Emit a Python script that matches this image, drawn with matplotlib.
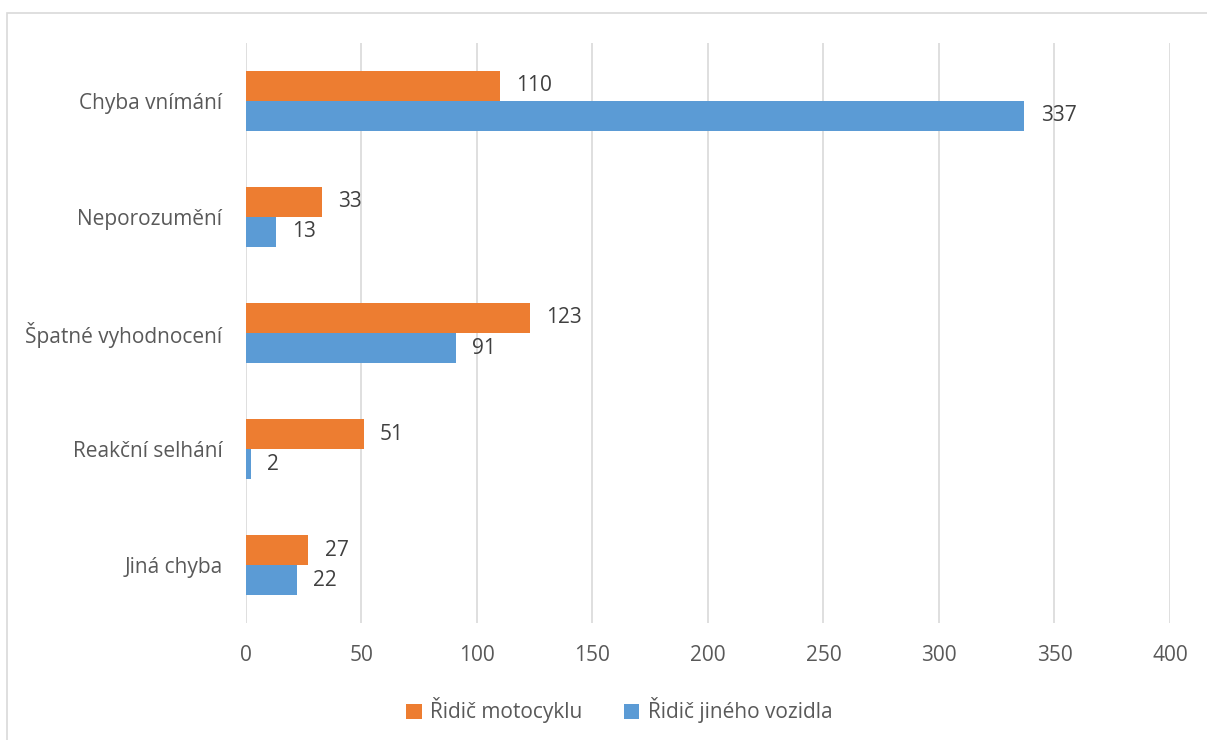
import numpy as np
import matplotlib.pyplot as plt
from matplotlib.patches import Rectangle

# data
categories = ['Chyba vnímání', 'Neporozumění', 'Špatné vyhodnocení', 'Reakční selhání', 'Jiná chyba']
motocykl = [110, 33, 123, 51, 27]
jine_vozidlo = [337, 13, 91, 2, 22]
series_names = ['Řidič motocyklu', 'Řidič jiného vozidla']
x_ticks = [0, 50, 100, 150, 200, 250, 300, 350, 400]

plt.rcParams['font.family'] = ['Open Sans', 'DejaVu Sans']

c_orange = '#ED7D31'
c_blue = '#5B9BD5'
txt = '#595959'
fs = 15

fig = plt.figure(figsize=(12.07, 7.4), dpi=100)
ax = fig.add_axes([0.2038, 0.158, 0.7655, 0.784])

# figure border
fig.patches.append(Rectangle((7/1207, -0.1), 1.2, 1.1 - 13/740, transform=fig.transFigure,
                             fill=False, edgecolor='#D9D9D9', linewidth=1.2))

y = np.arange(len(categories))
h = 0.259
b1 = ax.barh(y - h/2, motocykl, height=h, color=c_orange, label=series_names[0])
b2 = ax.barh(y + h/2, jine_vozidlo, height=h, color=c_blue, label=series_names[1])

# value labels
for bars, vals in [(b1, motocykl), (b2, jine_vozidlo)]:
    for bar, v in zip(bars, vals):
        ax.text(bar.get_width() + 7, bar.get_y() + bar.get_height()/2, str(v),
                va='center', ha='left', fontsize=fs, color='#404040')

ax.set_ylim(len(categories) - 0.5, -0.5)
ax.set_xlim(0, 400)
ax.set_xticks(x_ticks)
ax.set_yticks(y)
ax.set_yticklabels(categories)
ax.tick_params(axis='both', length=0, labelsize=fs, colors=txt)
ax.tick_params(axis='x', pad=16)
ax.tick_params(axis='y', pad=17)

ax.grid(axis='x', color='#D9D9D9', linewidth=1.2)
ax.set_axisbelow(True)
for s in ax.spines.values():
    s.set_visible(False)

leg = fig.legend(handles=[b1, b2], loc='center', bbox_to_anchor=(0.513, 0.04), ncol=2,
                 frameon=False, fontsize=fs, handlelength=0.75, handleheight=0.75,
                 handletextpad=0.4, columnspacing=2.0)
for t in leg.get_texts():
    t.set_color(txt)

fig.savefig('out.png', dpi=100)
